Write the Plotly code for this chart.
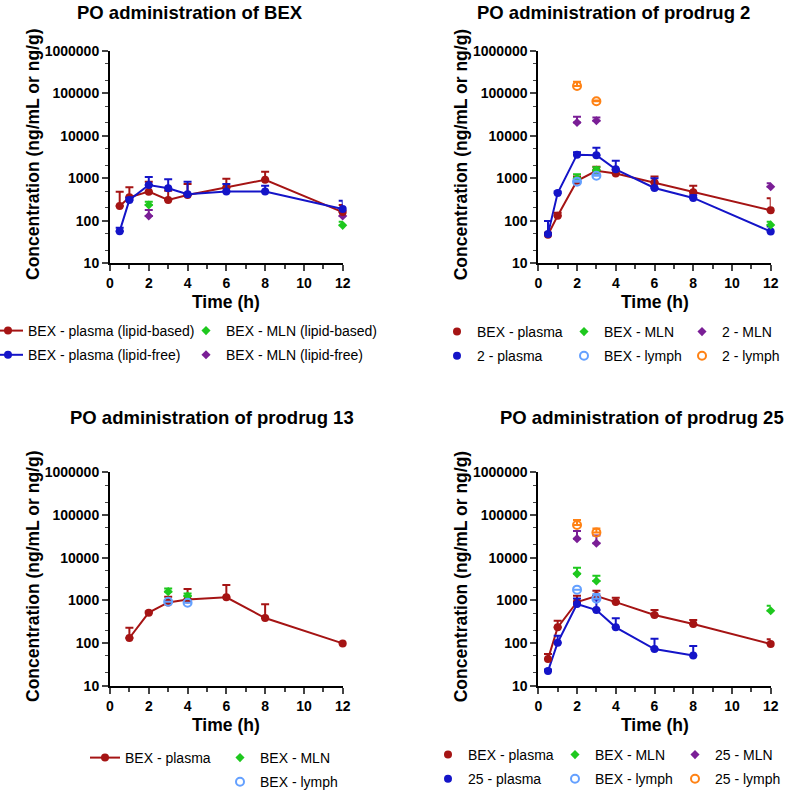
import plotly.graph_objects as go

W, H = 790, 791

# ---------------- data ----------------
# Panel 1: PO administration of BEX
p1_time = [0.5, 1, 2, 3, 4, 6, 8, 12]
p1_plasma_lb = [223, 357, 484, 309, 405, 610, 920, 160]
p1_plasma_lb_err = [260, 258, 349, 200, 328, 370, 510, 75]
p1_plasma_lf = [57, 309, 692, 582, 420, 490, 490, 190]
p1_plasma_lf_err = [12, 40, 380, 360, 410, 240, 180, 106]
p1_mln_time = [2, 12]
p1_mln_lb = [235, 78]
p1_mln_lb_err = [47, 17]
p1_mln_lf = [130, 130]
p1_mln_lf_err = [49, 30]

# Panel 2: PO administration of prodrug 2
p2_time = [0.5, 1, 2, 3, 4, 6, 8, 12]
p2_bex_plasma = [47, 132, 870, 1500, 1300, 790, 470, 176]
p2_bex_plasma_err = [5, 23, 230, 370, 260, 310, 200, 164]
p2_pd_plasma = [49, 450, 3590, 3470, 1620, 590, 345, 56]
p2_pd_plasma_err = [50, 35, 490, 1770, 960, 410, 55, 17]
p2_mln_time = [2, 3, 12]
p2_bex_mln = [1000, 1550, 80]
p2_bex_mln_err = [250, 260, 15]
p2_pd_mln = [20500, 22600, 630]
p2_pd_mln_err = [7500, 4400, 130]
p2_lymph_time = [2, 3]
p2_bex_lymph = [830, 1150]
p2_bex_lymph_err = [60, 80]
p2_pd_lymph = [148000, 64500]
p2_pd_lymph_err = [38000, 3000]

# Panel 3: PO administration of prodrug 13
p3_time = [1, 2, 3, 4, 6, 8, 12]
p3_bex_plasma = [131, 515, 895, 1050, 1180, 385, 98]
p3_bex_plasma_err = [97, 30, 325, 800, 1120, 425, 5]
p3_other_time = [3, 4]
p3_bex_mln = [1600, 1260]
p3_bex_mln_err = [300, 190]
p3_bex_lymph = [930, 880]
p3_bex_lymph_err = [0, 0]

# Panel 4: PO administration of prodrug 25
p4_time = [0.5, 1, 2, 3, 4, 6, 8, 12]
p4_bex_plasma = [42, 233, 915, 1260, 910, 455, 280, 95]
p4_bex_plasma_err = [13, 100, 365, 420, 240, 140, 65, 27]
p4_pd_time = [0.5, 1, 2, 3, 4, 6, 8]
p4_pd_plasma = [22, 102, 820, 590, 233, 72, 51]
p4_pd_plasma_err = [2, 47, 280, 460, 147, 54, 34]
p4_mln_time = [2, 3, 12]
p4_bex_mln = [4170, 2840, 570]
p4_bex_mln_err = [1630, 950, 180]
p4_pd_time2 = [2, 3]
p4_pd_mln = [27900, 21700]
p4_pd_mln_err = [14200, 11500]
p4_bex_lymph = [1780, 1090]
p4_bex_lymph_err = [0, 310]
p4_pd_lymph = [58000, 38800]
p4_pd_lymph_err = [18000, 9200]

titles = ["PO administration of BEX", "PO administration of prodrug 2",
          "PO administration of prodrug 13", "PO administration of prodrug 25"]
x_title = "Time (h)"
y_title = "Concentration (ng/mL or ng/g)"
x_ticks = [0, 2, 4, 6, 8, 10, 12]
y_ticks = [10, 100, 1000, 10000, 100000, 1000000]
y_tick_labels = ["10", "100", "1000", "10000", "100000", "1000000"]

# ---------------- styles ----------------
RED = "#A51414"
BLUE = "#1414C8"
GREEN = "#1EC81E"
PURPLE = "#7A1E96"
LBLUE = "#64A0FF"
ORANGE = "#FF8214"
FONT = "Arial, Liberation Sans, sans-serif"


def px(x):
    return x / W


def py(y):
    return 1 - y / H


fig = go.Figure()


def add(xa, ya, x, y, err, color, name, legend, mode="markers", symbol="circle",
        size=8, open_=False, showlegend=True):
    marker = dict(color=color, size=size, symbol=symbol)
    if open_:
        marker = dict(color=color, size=size, symbol="circle-open",
                      line=dict(color=color, width=2))
    fig.add_trace(go.Scatter(
        x=x, y=y, mode=mode, name=name, xaxis=xa, yaxis=ya,
        marker=marker, line=dict(color=color, width=2),
        error_y=dict(type="data", array=err, arrayminus=[0] * len(err),
                     symmetric=False, color=color, thickness=2, width=4),
        showlegend=showlegend, legend=legend, legendgroup=name + legend,
        cliponaxis=False))


def add_line(xa, ya, x, y, color):
    fig.add_trace(go.Scatter(x=x, y=y, mode="lines", xaxis=xa, yaxis=ya,
                             line=dict(color=color, width=2), showlegend=False,
                             hoverinfo="skip"))


# Panel 1
add("x", "y", p1_mln_time, p1_mln_lb, p1_mln_lb_err, GREEN, "BEX - MLN (lipid-based)", "legend2",
    symbol="diamond", size=7)
add("x", "y", p1_mln_time, p1_mln_lf, p1_mln_lf_err, PURPLE, "BEX - MLN (lipid-free)", "legend2",
    symbol="diamond", size=7)
add("x", "y", p1_time, p1_plasma_lb, p1_plasma_lb_err, RED, "BEX - plasma (lipid-based)", "legend",
    mode="lines+markers")
add("x", "y", p1_time, p1_plasma_lf, p1_plasma_lf_err, BLUE, "BEX - plasma (lipid-free)", "legend",
    mode="lines+markers")

# Panel 2
add_line("x2", "y2", p2_time, p2_bex_plasma, RED)
add_line("x2", "y2", p2_time, p2_pd_plasma, BLUE)
add("x2", "y2", p2_time, p2_bex_plasma, p2_bex_plasma_err, RED, "BEX - plasma", "legend3")
add("x2", "y2", p2_time, p2_pd_plasma, p2_pd_plasma_err, BLUE, "2 - plasma", "legend3")
add("x2", "y2", p2_mln_time, p2_bex_mln, p2_bex_mln_err, GREEN, "BEX - MLN", "legend4",
    symbol="diamond", size=7)
add("x2", "y2", p2_lymph_time, p2_bex_lymph, p2_bex_lymph_err, LBLUE, "BEX - lymph", "legend4",
    size=8, open_=True)
add("x2", "y2", p2_mln_time, p2_pd_mln, p2_pd_mln_err, PURPLE, "2 - MLN", "legend5",
    symbol="diamond", size=7)
add("x2", "y2", p2_lymph_time, p2_pd_lymph, p2_pd_lymph_err, ORANGE, "2 - lymph", "legend5",
    size=8, open_=True)

# Panel 3
add("x3", "y3", p3_time, p3_bex_plasma, p3_bex_plasma_err, RED, "BEX - plasma", "legend6",
    mode="lines+markers")
add("x3", "y3", p3_other_time, p3_bex_mln, p3_bex_mln_err, GREEN, "BEX - MLN", "legend7",
    symbol="diamond", size=7)
add("x3", "y3", p3_other_time, p3_bex_lymph, p3_bex_lymph_err, LBLUE, "BEX - lymph", "legend7",
    size=8, open_=True)

# Panel 4
add_line("x4", "y4", p4_time, p4_bex_plasma, RED)
add_line("x4", "y4", p4_pd_time, p4_pd_plasma, BLUE)
add("x4", "y4", p4_time, p4_bex_plasma, p4_bex_plasma_err, RED, "BEX - plasma", "legend8")
add("x4", "y4", p4_pd_time, p4_pd_plasma, p4_pd_plasma_err, BLUE, "25 - plasma", "legend8")
add("x4", "y4", p4_mln_time, p4_bex_mln, p4_bex_mln_err, GREEN, "BEX - MLN", "legend9",
    symbol="diamond", size=7)
add("x4", "y4", p4_pd_time2, p4_bex_lymph, p4_bex_lymph_err, LBLUE, "BEX - lymph", "legend9",
    size=8, open_=True)
add("x4", "y4", p4_pd_time2, p4_pd_mln, p4_pd_mln_err, PURPLE, "25 - MLN", "legend10",
    symbol="diamond", size=7)
add("x4", "y4", p4_pd_time2, p4_pd_lymph, p4_pd_lymph_err, ORANGE, "25 - lymph", "legend10",
    size=8, open_=True)

# ---------------- axes ----------------
XL = [(110, 342.7), (538.3, 770.7), (110, 342.7), (538.3, 770.7)]
YT = [(50.7, 263.3), (50.7, 263.3), (472.3, 685.7), (472.3, 685.7)]
tickfont = dict(family=FONT, size=14, color="black", weight="bold")

layout = dict(width=W, height=H, margin=dict(l=0, r=0, t=0, b=0, autoexpand=False),
              paper_bgcolor="white", plot_bgcolor="white",
              font=dict(family=FONT, color="black"))
for i in range(4):
    sfx = "" if i == 0 else str(i + 1)
    layout["xaxis" + sfx] = dict(
        domain=[px(XL[i][0]), px(XL[i][1])], range=[0, 12],
        anchor="y" + sfx, tickvals=x_ticks, ticks="outside", ticklen=6, tickwidth=2,
        showline=True, linewidth=2, linecolor="black", showgrid=False, zeroline=False,
        tickfont=tickfont,
        minor=dict(ticks="outside", ticklen=4, tickwidth=1.5, dtick=1, showgrid=False))
    layout["yaxis" + sfx] = dict(
        domain=[py(YT[i][1]), py(YT[i][0])], type="log", range=[1, 6],
        anchor="x" + sfx, tickvals=y_ticks, ticktext=y_tick_labels,
        ticks="outside", ticklen=6, tickwidth=2,
        showline=True, linewidth=2, linecolor="black", showgrid=False, zeroline=False,
        tickfont=tickfont,
        minor=dict(ticks="outside", ticklen=3, tickwidth=1, showgrid=False))

# ---------------- legends ----------------
leg_font = dict(family=FONT, size=14, color="black")
# (legend name, text x pixel, first-row center y pixel)
legend_pos = [("legend", 28, 330), ("legend2", 226, 330),
              ("legend3", 477, 331), ("legend4", 604, 331), ("legend5", 722, 331),
              ("legend6", 125, 757), ("legend7", 260, 757),
              ("legend8", 468, 754), ("legend9", 595, 754), ("legend10", 715, 754)]
for name, tx, ty in legend_pos:
    layout[name] = dict(x=px(tx - 40), y=py(ty - 15), xanchor="left", yanchor="top",
                        orientation="v", font=leg_font, bgcolor="rgba(0,0,0,0)",
                        borderwidth=0, tracegroupgap=3, traceorder="grouped",
                        itemwidth=30)

# ---------------- annotations ----------------
ann = []
title_pos = [(190, 12), (613, 12), (212, 418), (642, 418)]
for i, t in enumerate(titles):
    ann.append(dict(text=t, x=px(title_pos[i][0]), y=py(title_pos[i][1]), xref="paper",
                    yref="paper", showarrow=False, xanchor="center", yanchor="middle",
                    font=dict(family=FONT, size=18.5, color="black", weight="bold")))
for i in range(4):
    cx = (XL[i][0] + XL[i][1]) / 2
    cy = (YT[i][0] + YT[i][1]) / 2
    ann.append(dict(text=x_title, x=px(cx), y=py(YT[i][1] + 39), xref="paper", yref="paper",
                    showarrow=False, xanchor="center", yanchor="middle",
                    font=dict(family=FONT, size=17.5, color="black", weight="bold")))
    ann.append(dict(text=y_title, x=px(XL[i][0] - 77), y=py(cy - 2), xref="paper", yref="paper",
                    showarrow=False, xanchor="center", yanchor="middle", textangle=-90,
                    font=dict(family=FONT, size=17.5, color="black", weight="bold")))
layout["annotations"] = ann

fig.update_layout(**layout)
fig.write_html("out.html", config={"displayModeBar": False},
               post_script="document.body.style.margin='0';document.body.style.overflow='hidden';")
